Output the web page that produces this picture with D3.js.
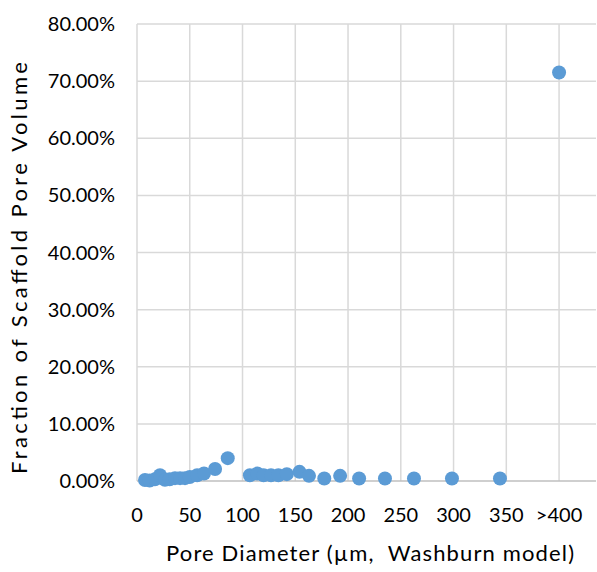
<!DOCTYPE html>
<html><head><meta charset="utf-8">
<script src="https://cdn.jsdelivr.net/npm/d3@7"></script>
<style>body{margin:0;background:#fff}text{font-family:Lato,"Liberation Sans",Arial,sans-serif;fill:#000}</style>
</head><body><svg id="c" width="597" height="572"></svg>
<script>
const poreDiameter = [7.6,12,17,21.8,26.5,31,36,40.8,45.5,50,57,63.5,74,86,107,114,120,127,134,142,154,163,177.5,192.5,210.5,235,262.5,298.5,344,400];
const poreFraction = [0.0017,0.001,0.003,0.010,0.002,0.003,0.005,0.005,0.005,0.007,0.010,0.013,0.021,0.040,0.010,0.013,0.010,0.010,0.010,0.012,0.016,0.009,0.0045,0.009,0.0045,0.0045,0.0045,0.0045,0.0045,0.715];
const xTicks = [0,50,100,150,200,250,300,350,400];
const xTickLabels = ["0","50","100","150","200","250","300","350",">400"];
const yTicks = [0,0.1,0.2,0.3,0.4,0.5,0.6,0.7,0.8];

const svg = d3.select("#c");
const L=137, R=596, T=24, B=481;
const x = d3.scaleLinear().domain([0,435]).range([L,R]);
const y = d3.scaleLinear().domain([0,0.8]).range([B,T]);

svg.append("g").selectAll("line").data(yTicks.slice(1)).join("line")
  .attr("x1",L).attr("x2",R).attr("y1",d=>y(d)).attr("y2",d=>y(d))
  .attr("stroke","#d9d9d9").attr("stroke-width",1.5);
svg.append("g").selectAll("line").data(xTicks).join("line")
  .attr("x1",d=>x(d)).attr("x2",d=>x(d)).attr("y1",T).attr("y2",B)
  .attr("stroke","#d9d9d9").attr("stroke-width",1.5);
svg.append("line").attr("x1",L).attr("x2",R).attr("y1",B).attr("y2",B)
  .attr("stroke","#bfbfbf").attr("stroke-width",1.5);

const fmt = d3.format(".2%");
svg.append("g").selectAll("text").data(yTicks).join("text")
  .attr("x",115).attr("y",d=>y(d)).attr("dy","0.35em").attr("text-anchor","end")
  .attr("font-size",20).text(d=>fmt(d));
svg.append("g").selectAll("text").data(xTicks).join("text")
  .attr("x",d=>x(d)).attr("y",515).attr("dy","0.35em").attr("text-anchor","middle")
  .attr("font-size",20).text((d,i)=>xTickLabels[i]);

svg.append("text").attr("x",370).attr("y",553).attr("dy","0.35em").attr("text-anchor","middle")
  .attr("font-size",22).attr("textLength",408).attr("lengthAdjust","spacing")
  .attr("xml:space","preserve").style("white-space","pre").text("Pore Diameter (µm,  Washburn model)");
svg.append("text").attr("transform","translate(19,268) rotate(-90)").attr("dy","0.35em").attr("text-anchor","middle")
  .attr("font-size",22).attr("textLength",412).attr("lengthAdjust","spacing")
  .text("Fraction of Scaffold Pore Volume");

svg.append("g").selectAll("circle").data(poreDiameter).join("circle")
  .attr("cx",d=>x(d)).attr("cy",(d,i)=>y(poreFraction[i])).attr("r",7)
  .attr("fill","#5b9bd5");
</script></body></html>
